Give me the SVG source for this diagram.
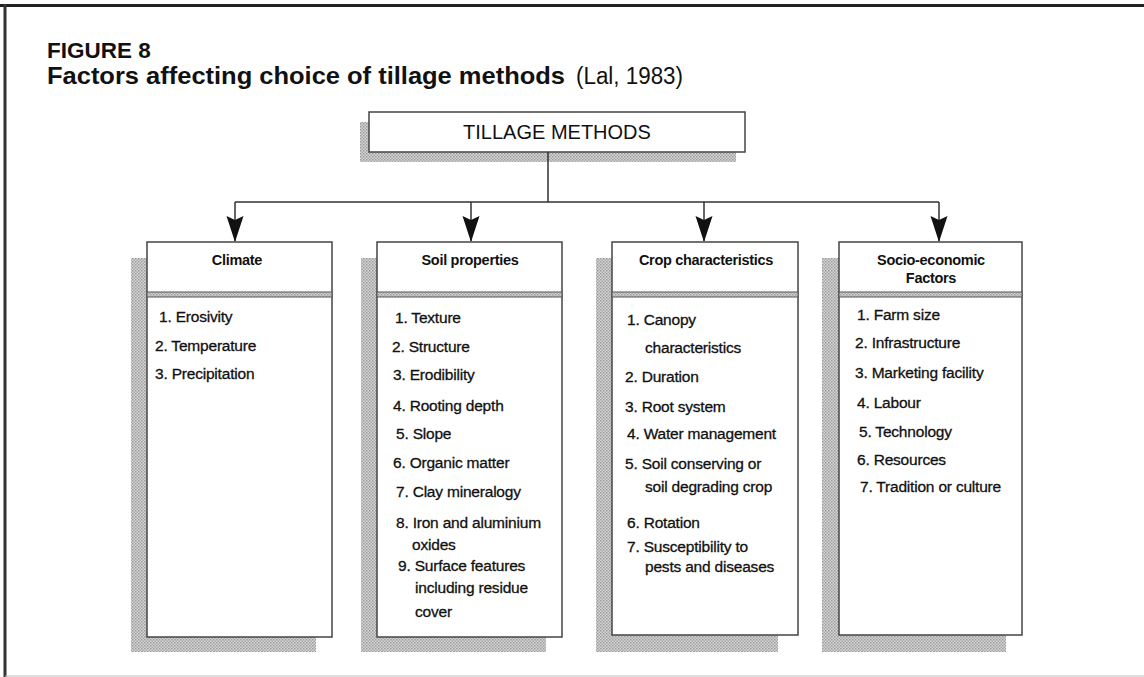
<svg xmlns="http://www.w3.org/2000/svg" width="1144" height="677" viewBox="0 0 1144 677">
  <defs>
    <pattern id="halftone" width="3" height="3" patternUnits="userSpaceOnUse">
      <rect width="3" height="3" fill="#d6d6d6"/>
      <rect width="1.5" height="1.5" fill="#9a9a9a"/>
      <rect x="1.5" y="1.5" width="1.5" height="1.5" fill="#a8a8a8"/>
    </pattern>
    <marker id="arrow" viewBox="0 0 26 18" refX="25" refY="9" markerWidth="26" markerHeight="18" markerUnits="userSpaceOnUse" orient="auto">
      <path d="M0,0.5 L26,9 L0,17.5 L4,9 z" fill="#111"/>
    </marker>
  </defs>
  <style>
    .title { font-family: "Liberation Sans", Arial, sans-serif; font-weight: bold; fill: #111; }
    .cite { font-family: "Liberation Sans", Arial, sans-serif; font-weight: normal; fill: #111; }
    .main { font-family: "Liberation Sans", Arial, sans-serif; font-size: 20px; fill: #111; }
    .hdr { font-family: "Liberation Sans", Arial, sans-serif; font-weight: bold; font-size: 14.5px; fill: #111; text-anchor: middle; letter-spacing: -0.3px; }
    .item { font-family: "Liberation Sans", Arial, sans-serif; font-size: 15.5px; fill: #111; letter-spacing: -0.2px; stroke: #111; stroke-width: 0.3px; }
    .box { fill: #fff; stroke: #444; stroke-width: 1.5; }
    .shadow { fill: url(#halftone); }
    .div { fill: url(#halftone); stroke: #555; stroke-width: 1; }
    .conn { fill: none; stroke: #333; stroke-width: 1.5; }
  </style>
  <rect width="1144" height="677" fill="#fff"/>
  <!-- frame -->
  <line x1="0" y1="5.5" x2="1144" y2="5.5" stroke="#222" stroke-width="3"/>
  <line x1="5" y1="4" x2="5" y2="677" stroke="#333" stroke-width="3"/>
  <line x1="5" y1="676" x2="1144" y2="676" stroke="#bbb" stroke-width="1"/>

  <g id="title">
    <text class="title" x="47" y="58" font-size="22.5">FIGURE 8</text>
    <text class="title" x="47" y="84" font-size="24" textLength="518" lengthAdjust="spacingAndGlyphs">Factors affecting choice of tillage methods</text>
    <text class="cite" x="576" y="84" font-size="23" textLength="107" lengthAdjust="spacingAndGlyphs">(Lal, 1983)</text>
  </g>

  <g id="tillage-methods">
    <rect class="shadow" x="360" y="122" width="376" height="40"/>
    <rect class="box" x="369" y="112" width="376" height="40" stroke-width="2" stroke="#333"/>
    <text class="main" x="557" y="139" text-anchor="middle">TILLAGE METHODS</text>
  </g>

  <g id="connectors">
    <path class="conn" d="M548,152 V202 M235,202 H939"/>
    <line class="conn" x1="235" y1="202" x2="235" y2="241" marker-end="url(#arrow)"/>
    <line class="conn" x1="471" y1="202" x2="471" y2="241" marker-end="url(#arrow)"/>
    <line class="conn" x1="704" y1="202" x2="704" y2="241" marker-end="url(#arrow)"/>
    <line class="conn" x1="939" y1="202" x2="939" y2="241" marker-end="url(#arrow)"/>
  </g>

  <g id="climate">
    <rect class="shadow" x="131" y="258" width="185" height="394"/>
    <rect class="box" x="147" y="242" width="185" height="395"/>
    <rect class="div" x="147" y="292" width="185" height="5"/>
    <text class="hdr" x="237" y="265">Climate</text>
    <text class="item" x="159" y="322">1. Erosivity</text>
    <text class="item" x="155" y="351">2. Temperature</text>
    <text class="item" x="155" y="379">3. Precipitation</text>
  </g>

  <g id="soil-properties">
    <rect class="shadow" x="361" y="258" width="185" height="394"/>
    <rect class="box" x="377" y="242" width="185" height="395"/>
    <rect class="div" x="377" y="292" width="185" height="5"/>
    <text class="hdr" x="470" y="265">Soil properties</text>
    <text class="item" x="395" y="323">1. Texture</text>
    <text class="item" x="392" y="352">2. Structure</text>
    <text class="item" x="393" y="380">3. Erodibility</text>
    <text class="item" x="393" y="411">4. Rooting depth</text>
    <text class="item" x="396" y="439">5. Slope</text>
    <text class="item" x="393" y="468">6. Organic matter</text>
    <text class="item" x="396" y="497">7. Clay mineralogy</text>
    <text class="item" x="396" y="528">8. Iron and aluminium</text>
    <text class="item" x="412" y="550">oxides</text>
    <text class="item" x="398" y="571">9. Surface features</text>
    <text class="item" x="415" y="593">including residue</text>
    <text class="item" x="415" y="617">cover</text>
  </g>

  <g id="crop-characteristics">
    <rect class="shadow" x="596" y="258" width="182" height="394"/>
    <rect class="box" x="612" y="242" width="186" height="393"/>
    <rect class="div" x="612" y="292" width="186" height="5"/>
    <text class="hdr" x="706" y="265">Crop characteristics</text>
    <text class="item" x="627" y="325">1. Canopy</text>
    <text class="item" x="645" y="353">characteristics</text>
    <text class="item" x="625" y="382">2. Duration</text>
    <text class="item" x="625" y="412">3. Root system</text>
    <text class="item" x="627" y="439">4. Water management</text>
    <text class="item" x="625" y="469">5. Soil conserving or</text>
    <text class="item" x="645" y="492">soil degrading crop</text>
    <text class="item" x="627" y="528">6. Rotation</text>
    <text class="item" x="627" y="552">7. Susceptibility to</text>
    <text class="item" x="645" y="572">pests and diseases</text>
  </g>

  <g id="socio-economic-factors">
    <rect class="shadow" x="822" y="258" width="184" height="394"/>
    <rect class="box" x="839" y="242" width="183" height="393"/>
    <rect class="div" x="839" y="292" width="183" height="5"/>
    <text class="hdr" x="931" y="265">Socio-economic</text>
    <text class="hdr" x="931" y="283">Factors</text>
    <text class="item" x="857" y="320">1. Farm size</text>
    <text class="item" x="855" y="348">2. Infrastructure</text>
    <text class="item" x="855" y="378">3. Marketing facility</text>
    <text class="item" x="857" y="408">4. Labour</text>
    <text class="item" x="859" y="437">5. Technology</text>
    <text class="item" x="857" y="465">6. Resources</text>
    <text class="item" x="860" y="492">7. Tradition or culture</text>
  </g>
</svg>
